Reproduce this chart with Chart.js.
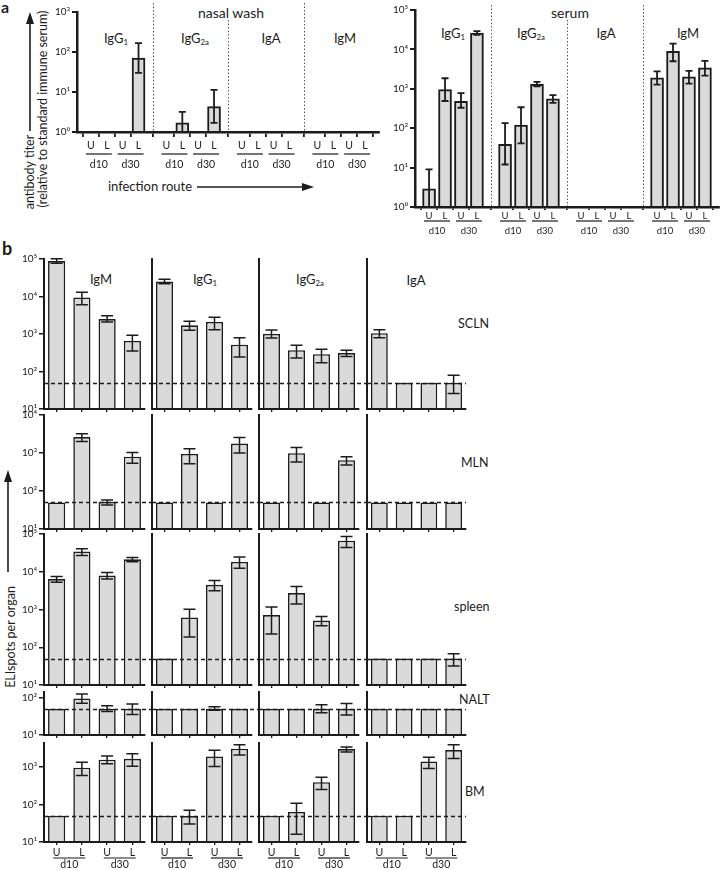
<!DOCTYPE html>
<html><head><meta charset="utf-8"><title>Antibody titers and ELISpots</title>
<script src="https://cdn.jsdelivr.net/npm/chart.js@4.4.1/dist/chart.umd.min.js"></script>
<style>
html,body{margin:0;padding:0;background:#fff}
body{position:relative;width:720px;height:870px;overflow:hidden;font-family:Lato,'Open Sans',sans-serif;color:#1c1c1c}
canvas{position:absolute;display:block}
.t{position:absolute;white-space:nowrap;line-height:1;transform:translate(-50%,-50%)}
.l{position:absolute;white-space:nowrap;line-height:1;transform:translate(0,-50%)}
.r{position:absolute;white-space:nowrap;line-height:1;transform:translate(-50%,-50%) rotate(-90deg)}
sub{font-size:0.6em;vertical-align:-0.35em;line-height:0}
#ov{position:absolute;left:0;top:0;pointer-events:none}
</style></head><body>
<svg id="ov" width="720" height="870" xmlns="http://www.w3.org/2000/svg">
  <g stroke="#1c1c1c" stroke-width="1.6" fill="#1c1c1c">
    <line x1="30" y1="131" x2="30" y2="20"/><polygon points="30,12 26,24 34,24" stroke="none"/>
    <line x1="197" y1="187" x2="305" y2="187"/><polygon points="314,187 302,183 302,191" stroke="none"/>
    <line x1="8" y1="572" x2="8" y2="478"/><polygon points="8,470 4,482 12,482" stroke="none"/>
  </g>
</svg>
<div style="position:absolute;left:1px;top:-3px;font-weight:700;font-size:16px">a</div>
<div style="position:absolute;left:2px;top:237px;font-weight:700;font-size:18px">b</div>

<div class="t" style="left:231px;top:13px;font-size:14px">nasal wash</div>
<div class="t" style="left:570px;top:13px;font-size:14px">serum</div>
<div class="t" style="left:116px;top:38px;font-size:13px">IgG<sub>1</sub></div>
<div class="t" style="left:195px;top:38px;font-size:13px">IgG<sub>2a</sub></div>
<div class="t" style="left:271px;top:38px;font-size:13px">IgA</div>
<div class="t" style="left:345px;top:38px;font-size:13px">IgM</div>
<div class="t" style="left:453px;top:33px;font-size:13px">IgG<sub>1</sub></div>
<div class="t" style="left:531px;top:33px;font-size:13px">IgG<sub>2a</sub></div>
<div class="t" style="left:606px;top:33px;font-size:13px">IgA</div>
<div class="t" style="left:688px;top:33px;font-size:13px">IgM</div>
<div class="t" style="left:150px;top:186px;font-size:13px">infection route</div>
<div class="r" style="left:30px;top:172px;font-size:12.5px">antibody titer</div>
<div class="r" style="left:43px;top:109px;font-size:12.5px">(relative to standard immune serum)</div>
<div class="r" style="left:11px;top:637px;font-size:12.5px">ELIspots per organ</div>

<div class="t" style="left:101px;top:279px;font-size:13px">IgM</div>
<div class="t" style="left:205px;top:279px;font-size:13px">IgG<sub>1</sub></div>
<div class="t" style="left:310px;top:279px;font-size:13px">IgG<sub>2a</sub></div>
<div class="t" style="left:416px;top:280px;font-size:13px">IgA</div>
<div class="l" style="left:458px;top:324px;font-size:12.5px">SCLN</div>
<div class="l" style="left:461px;top:463px;font-size:12.5px">MLN</div>
<div class="l" style="left:454px;top:607px;font-size:12.5px">spleen</div>
<div class="l" style="left:459px;top:700px;font-size:12.5px">NALT</div>
<div class="l" style="left:465px;top:792px;font-size:12.5px">BM</div>

<script>
// ---------- data ----------
const powerLabels = ['10⁰','10¹','10²','10³','10⁴','10⁵'];
const decades = [1, 10, 100, 1000, 10000, 100000];
const routes = ['U', 'L', 'U', 'L'];
const days = ['d10', 'd30'];
const isotypesA = ['IgG1', 'IgG2a', 'IgA', 'IgM'];
const isotypesB = ['IgM', 'IgG1', 'IgG2a', 'IgA'];
const organs = ['SCLN', 'MLN', 'spleen', 'NALT', 'BM'];

// panel a: order IgG1, IgG2a, IgA, IgM ; each U d10, L d10, U d30, L d30
const nasalMean = [null,null,null,70,  null,1.7,null,4.3,  null,null,null,null,  null,null,null,null];
const nasalHigh = [null,null,null,166, null,3.2,null,11.3, null,null,null,null,  null,null,null,null];
const nasalLow  = [null,null,null,30,  null,0.5,null,1.7,  null,null,null,null,  null,null,null,null];
const serumMean = [2.9,950,480,26000,  39,120,1300,560,  null,null,null,null,  1900,8900,2000,3400];
const serumHigh = [9,1850,780,29000,   134,340,1500,690, null,null,null,null,  2760,14000,2850,5100];
const serumLow  = [0.5,490,330,23500,  12,41,1150,440,   null,null,null,null,  1280,5000,1350,2150];

// panel b: order IgM, IgG1, IgG2a, IgA ; each U d10, L d10, U d30, L d30
const sclnMean = [88000,9400,2500,650,  25000,1700,2100,520,  1000,370,290,310,  1050,50,50,50];
const sclnHigh = [101000,13000,3050,920, 29000,2200,2800,800, 1280,500,395,370,  1300,null,null,80];
const sclnLow  = [77000,6000,2100,350,  22000,1250,1300,245,  785,230,170,250,   800,null,null,26];
const mlnMean = [50,2630,52,800,  50,940,50,1770,  50,990,50,645,  50,50,50,50];
const mlnHigh = [null,3200,58,1025, null,1290,null,2550, null,1390,null,800, null,null,null,null];
const mlnLow  = [null,2000,43,540,  null,525,null,1000,  null,580,null,485,  null,null,null,null];
const spleenMean = [6400,34500,7900,21400, 50,615,4500,18200, 710,2720,510,66500, 50,50,50,50];
const spleenHigh = [7500,40600,9600,24000, null,1020,5900,24500, 1170,4060,650,86000, null,null,null,67];
const spleenLow  = [5300,27000,6400,18400, null,186,3150,12300,  226,1400,370,44000,  null,null,null,32];
const naltMean = [50,94,50,50, 50,50,50,50, 50,50,50,50, 50,50,50,50];
const naltHigh = [null,123,60,67, null,null,57,null, null,null,64,69, null,null,null,null];
const naltLow  = [null,70,42,35,  null,null,46,null, null,null,39,34, null,null,null,null];
const bmMean = [50,945,1540,1630, 50,49,1890,3020, 50,63,390,2960, 50,50,1390,2780];
const bmHigh = [null,1330,1930,2220, null,70,2740,3850, null,107,530,3350, null,null,1810,3850];
const bmLow  = [null,590,1200,1040,  null,30,1020,2050, null,16,250,2460,  null,null,900,1670];
const detectionLimit = 50;
const rowAxisMax = [100000, 10000, 100000, 140, 4300];

// ---------- drawing ----------
const INK = '#1c1c1c', FILL = '#dadada';
Chart.defaults.font.family = "Lato, 'Open Sans', sans-serif";
Chart.defaults.color = INK;

function errPlugin(high, low, cap, lw) {
  return { id: 'err', afterDatasetsDraw(chart) {
    const ctx = chart.ctx, ys = chart.scales.y, meta = chart.getDatasetMeta(0), a = chart.chartArea;
    ctx.save(); ctx.strokeStyle = INK; ctx.lineWidth = lw; ctx.lineCap = 'butt';
    high.forEach((h, i) => {
      if (h == null) return;
      const x = meta.data[i].x;
      const yh = ys.getPixelForValue(h);
      let yl = low[i] != null ? ys.getPixelForValue(low[i]) : a.bottom, capLow = true;
      if (yl >= a.bottom) { yl = a.bottom; capLow = false; }
      ctx.beginPath();
      ctx.moveTo(x, yh); ctx.lineTo(x, yl);
      ctx.moveTo(x - cap / 2, yh); ctx.lineTo(x + cap / 2, yh);
      if (capLow) { ctx.moveTo(x - cap / 2, yl); ctx.lineTo(x + cap / 2, yl); }
      ctx.stroke();
    });
    ctx.restore();
  }};
}
function limitPlugin(value, extR) {
  return { id: 'limit', afterDatasetsDraw(chart) {
    const ctx = chart.ctx, a = chart.chartArea, y = Math.round(chart.scales.y.getPixelForValue(value)) + 0.5;
    ctx.save(); ctx.strokeStyle = INK; ctx.lineWidth = 1.5; ctx.setLineDash([4, 3]);
    ctx.beginPath(); ctx.moveTo(a.left, y); ctx.lineTo(a.right + extR, y); ctx.stroke(); ctx.restore();
  }};
}
function dayPlugin(nGroups, ulOff, txtOff, half, size) {
  return { id: 'days', afterDraw(chart) {
    const ctx = chart.ctx, xs = chart.scales.x, base = chart.chartArea.bottom;
    ctx.save(); ctx.strokeStyle = INK; ctx.fillStyle = INK; ctx.lineWidth = 1.2;
    ctx.font = size + "px Lato, 'Open Sans', sans-serif"; ctx.textAlign = 'center'; ctx.textBaseline = 'middle';
    for (let g = 0; g < nGroups; g++) {
      for (let d = 0; d < 2; d++) {
        const i0 = g * 4 + d * 2;
        const mid = (xs.getPixelForTick(i0) + xs.getPixelForTick(i0 + 1)) / 2;
        ctx.beginPath(); ctx.moveTo(mid - half, base + ulOff); ctx.lineTo(mid + half, base + ulOff); ctx.stroke();
        ctx.fillText(days[d], mid, base + txtOff);
      }
    }
    ctx.restore();
  }};
}
function dividerPlugin(tops) {
  return { id: 'div', afterDatasetsDraw(chart) {
    const ctx = chart.ctx, xs = chart.scales.x, a = chart.chartArea;
    ctx.save(); ctx.strokeStyle = '#555'; ctx.lineWidth = 1; ctx.setLineDash([1.5, 2]);
    tops.forEach((t, k) => {
      const x = Math.round(xs.getPixelForValue(k + 1)) + 0.5;
      ctx.beginPath(); ctx.moveTo(x, a.top + t); ctx.lineTo(x, a.bottom); ctx.stroke();
    });
    ctx.restore();
  }};
}

function logY(min, max, show, fs, lw, tl, bw) {
  return {
    type: 'logarithmic', min, max,
    afterBuildTicks: s => { s.ticks = decades.filter(v => v >= min && v <= max * 1.0001).map(v => ({ value: v })); },
    ticks: { display: show, autoSkip: false, padding: 2, font: { size: fs }, color: INK,
             callback: v => powerLabels[Math.round(Math.log10(v))] },
    grid: { display: show, drawOnChartArea: false, drawTicks: true, tickLength: tl, color: INK, lineWidth: lw },
    border: { display: true, color: INK, width: bw, z: 1 }
  };
}

function makeChart(p) {
  const W = p.axisW + p.plotW + p.padR, H = p.padT + p.plotH + p.axisH;
  const c = document.createElement('canvas');
  c.width = W; c.height = H;
  Object.assign(c.style, { left: (p.left - p.axisW) + 'px', top: (p.top - p.padT) + 'px', width: W + 'px', height: H + 'px' });
  document.body.appendChild(c);
  return new Chart(c, {
    type: 'bar',
    data: p.data,
    options: {
      responsive: false, animation: false, devicePixelRatio: 1,
      layout: { padding: { top: p.padT, right: p.padR, left: 0, bottom: 0 } },
      plugins: { legend: { display: false }, tooltip: { enabled: false } },
      scales: {
        x: Object.assign({}, p.x, { afterFit: s => { s.height = p.axisH; } }),
        y: Object.assign({}, p.y, { afterFit: s => { s.width = p.axisW; } })
      }
    },
    plugins: p.plugins
  });
}

// ----- panel a -----
const positions = [];
for (let g = 0; g < 4; g++) for (let j = 0; j < 4; j++) positions.push(g + 0.5 + (j - 1.5) * 0.21);

function panelA(mean, high, low, geo) {
  return makeChart({
    left: geo.left, top: geo.top, plotW: geo.w, plotH: geo.h, axisW: geo.axisW, axisH: geo.axisH, padT: geo.padT, padR: geo.padR,
    data: { datasets: [{ data: positions.map((x, i) => ({ x, y: mean[i] })), backgroundColor: FILL, borderColor: INK, borderWidth: 2, barThickness: 13 }] },
    x: {
      type: 'linear', min: 0, max: 4, offset: false,
      afterBuildTicks: s => { s.ticks = positions.map(v => ({ value: v })); },
      ticks: { callback: (v, i) => routes[i % 4], autoSkip: false, maxRotation: 0, padding: geo.tickPad, font: { size: geo.fs }, color: INK },
      grid: { display: true, drawOnChartArea: false, tickLength: geo.tl, color: INK, lineWidth: 1.8 },
      border: { display: true, color: INK, width: 2.5, z: 1 }
    },
    y: logY(1, geo.max, true, 10, 2, 5, 2.5),
    plugins: [errPlugin(high, low, 7, 1.8), dividerPlugin(geo.divTops), dayPlugin(4, geo.ul, geo.txt, 13, geo.fs)]
  });
}
panelA(nasalMean, nasalHigh, nasalLow, { left: 77, top: 12, w: 302, h: 120, axisW: 44, axisH: 48, padT: 12, padR: 4, max: 1000, tickPad: 2, tl: 5, fs: 10.5, ul: 22, txt: 33, divTops: [-9, 8, -9] });
panelA(serumMean, serumHigh, serumLow, { left: 415, top: 10, w: 304, h: 197, axisW: 36, axisH: 34, padT: 10, padR: 1, max: 100000, tickPad: 0, tl: 3, fs: 9.5, ul: 14, txt: 24, divTops: [-5, 10, -5] });

// ----- panel b -----
const rowMeans = [sclnMean, mlnMean, spleenMean, naltMean, bmMean];
const rowHighs = [sclnHigh, mlnHigh, spleenHigh, naltHigh, bmHigh];
const rowLows  = [sclnLow, mlnLow, spleenLow, naltLow, bmLow];
const rowGeo = [ { top: 259, h: 150 }, { top: 415, h: 114 }, { top: 534, h: 151 }, { top: 692, h: 43 }, { top: 743, h: 99 } ];
const colGeo = [ { left: 44, w: 101 }, { left: 152, w: 100 }, { left: 259, w: 100 }, { left: 367, w: 99 } ];

organs.forEach((organ, r) => {
  const bottomRow = r === organs.length - 1;
  isotypesB.forEach((iso, c) => {
    const sl = a => a.slice(c * 4, c * 4 + 4);
    const first = c === 0;
    makeChart({
      left: colGeo[c].left, top: rowGeo[r].top, plotW: colGeo[c].w, plotH: rowGeo[r].h,
      axisW: first ? 44 : 6, axisH: bottomRow ? 28 : 10, padT: 10, padR: c < 3 ? 8 : 3,
      data: { labels: routes, datasets: [{ data: sl(rowMeans[r]), backgroundColor: FILL, borderColor: INK, borderWidth: 1.6, barPercentage: 0.68, categoryPercentage: 1 }] },
      x: {
        type: 'category', offset: true,
        grid: { display: true, offset: false, drawOnChartArea: false, tickLength: 3, color: INK, lineWidth: 1.3 },
        border: { display: true, color: INK, width: 2, z: 1 },
        ticks: { display: bottomRow, padding: 1, font: { size: 10.5 }, color: INK, maxRotation: 0, autoSkip: false }
      },
      y: logY(10, rowAxisMax[r], first, 10, 1.5, 5, 2),
      plugins: [limitPlugin(detectionLimit, c < 3 ? 7 : 0), errPlugin(sl(rowHighs[r]), sl(rowLows[r]), 12, 1.5)]
        .concat(bottomRow ? [dayPlugin(1, 16, 23, 16, 10.5)] : [])
    });
  });
});
</script>
</body></html>
